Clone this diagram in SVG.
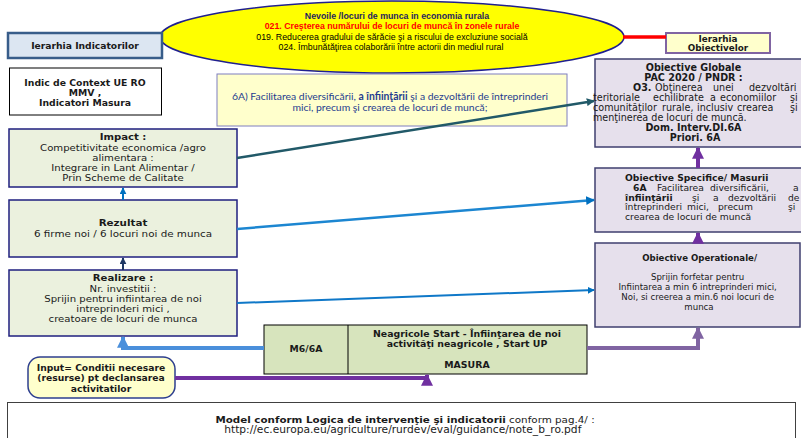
<svg xmlns="http://www.w3.org/2000/svg" width="801" height="438" viewBox="0 0 801 438">
<defs>
<style>
.t{font-family:"DejaVu Sans","Liberation Sans",sans-serif;fill:#1a1a1a}
.b{font-weight:bold}
.m{text-anchor:middle}
.a{font-family:"Liberation Sans",Arial,sans-serif}
.lft{fill:#EBF1DE;stroke:#1F1F7F;stroke-width:1.5}
.rgt{fill:#E6E0EC;stroke:#3F3F6F;stroke-width:1.5}
</style>
<marker id="ab" viewBox="0 0 10 10" refX="9" refY="5" markerWidth="3.5" markerHeight="3.5" orient="auto"><path d="M0,0L10,5L0,10z" fill="#0070C0"/></marker>
<marker id="an" viewBox="0 0 10 10" refX="9" refY="5" markerWidth="3.5" markerHeight="3.5" orient="auto"><path d="M0,0L10,5L0,10z" fill="#1F3864"/></marker>
<marker id="al" viewBox="0 0 10 10" refX="9" refY="5" markerWidth="3" markerHeight="3" orient="auto"><path d="M0,0L10,5L0,10z" fill="#4A8FDB"/></marker>
<marker id="at" viewBox="0 0 10 10" refX="9" refY="5" markerWidth="3.2" markerHeight="3.2" orient="auto"><path d="M0,0L10,5L0,10z" fill="#215968"/></marker>
<marker id="ap" viewBox="0 0 10 10" refX="9" refY="5" markerWidth="3" markerHeight="3" orient="auto"><path d="M0,0L10,5L0,10z" fill="#7030A0"/></marker>
<marker id="ap2" viewBox="0 0 10 10" refX="9" refY="5" markerWidth="3" markerHeight="3" orient="auto"><path d="M0,0L10,5L0,10z" fill="#8064A2"/></marker>
</defs>
<rect width="801" height="438" fill="#fff"/>

<g id="nevoi">
<ellipse cx="392" cy="37" rx="232" ry="36" fill="#FFFF00" stroke="#1F1F8F" stroke-width="1.5"/>
<text class="a b m" x="397" y="19" font-size="8.8" fill="#1F1F5F">Nevoile /locuri de munca in economia rurala</text>
<text class="a b m" x="392" y="29" font-size="8.8" fill="#FF0000">021. Creşterea numărului de locuri de muncă în zonele rurale</text>
<text class="a m" x="392" y="39.5" font-size="8.8" fill="#000">019. Reducerea gradului de sărăcie şi a riscului de excluziune socială</text>
<text class="a m" x="391" y="50" font-size="8.8" fill="#000">024. Îmbunătăţirea colaborării între actorii din mediul rural</text>
</g>

<g id="ierarhia-ind">
<rect x="8" y="33" width="154" height="25" fill="#DCE6F2" stroke="#385D8A" stroke-width="2.5"/>
<text class="t b m" x="85" y="49" font-size="9.2">Ierarhia Indicatorilor</text>
</g>

<g id="context">
<rect x="9.5" y="68" width="152" height="47" fill="#fff" stroke="#000" stroke-width="1"/>
<text class="t b m" font-size="9.3"><tspan x="85" y="85.5">Indic de Context UE RO</tspan><tspan x="85" y="95.5">MMV ,</tspan><tspan x="85" y="105.5">Indicatori Masura</tspan></text>
</g>

<g id="obj6a">
<rect x="217" y="74" width="350" height="52" fill="#FFFFCC" stroke="#7F7FBF" stroke-width="1"/>
<text font-family="Lato,'Open Sans',sans-serif" font-size="10.4" fill="#1F3D8F" text-anchor="middle"><tspan x="390" y="99.5">6A) Facilitarea diversificării, <tspan font-weight="bold">a înfiinţării</tspan> şi a dezvoltării de întreprinderi</tspan><tspan x="390" y="110.5">mici, precum şi crearea de locuri de muncă;</tspan></text>
</g>

<g id="impact">
<rect class="lft" x="9" y="129" width="228" height="58"/>
<g transform="translate(123 0) scale(1.1 1)">
<text class="t m" font-size="9.2"><tspan class="b" x="0" y="140.5">Impact :</tspan><tspan x="0" y="150.8">Competitivitate economica /agro</tspan><tspan x="0" y="161">alimentara :</tspan><tspan x="0" y="171.2">Integrare in Lant Alimentar /</tspan><tspan x="0" y="181.5">Prin Scheme de Calitate</tspan></text>
</g>
</g>

<g id="rezultat">
<rect class="lft" x="9" y="200" width="228" height="57"/>
<g transform="translate(123 0) scale(1.1 1)">
<text class="t m" font-size="9.4"><tspan class="b" x="0" y="226.5">Rezultat</tspan><tspan x="0" y="237.5">6 firme noi / 6 locuri noi de munca</tspan></text>
</g>
</g>

<g id="realizare">
<rect class="lft" x="9" y="270" width="228" height="66"/>
<g transform="translate(123 0) scale(1.1 1)">
<text class="t m" font-size="9.2"><tspan class="b" x="0" y="281.5">Realizare :</tspan><tspan x="0" y="292.5">Nr. investitii :</tspan><tspan x="0" y="302.5">Sprijin pentru infiintarea de noi</tspan><tspan x="0" y="312.5">intreprinderi mici ,</tspan><tspan x="0" y="322.5">creatoare de locuri de munca</tspan></text>
</g>
</g>

<g id="ierarhia-obj">
<rect x="666" y="33" width="104" height="20" fill="#FFFFCC" stroke="#8064A2" stroke-width="2"/>
<text class="t b m" font-size="8.8"><tspan x="718" y="42">Ierarhia</tspan><tspan x="718" y="51">Obiectivelor</tspan></text>
</g>

<g id="globale">
<rect class="rgt" x="595" y="59" width="230" height="88"/>
<text class="t" font-size="9.6">
<tspan class="b m" x="695" y="70.5">Obiective Globale</tspan>
<tspan class="b m" x="695" y="80.5">PAC 2020 / PNDR :</tspan>
<tspan class="b" x="633" y="91">O3.</tspan><tspan x="655" y="91">Obţinerea</tspan><tspan x="713" y="91">unei</tspan><tspan x="749" y="91">dezvoltări</tspan>
<tspan x="593" y="101">teritoriale</tspan><tspan x="653" y="101">echilibrate</tspan><tspan x="710" y="101">a</tspan><tspan x="720" y="101">economiilor</tspan><tspan x="790" y="101">şi</tspan>
<tspan x="593" y="111">comunităţilor</tspan><tspan x="662" y="111">rurale,</tspan><tspan x="697" y="111">inclusiv</tspan><tspan x="737" y="111">crearea</tspan><tspan x="790" y="111">şi</tspan>
<tspan x="593" y="121">menţinerea de locuri de muncă.</tspan>
<tspan class="b m" x="695" y="131">Dom. Interv.DI.6A</tspan>
<tspan class="b m" x="695" y="141">Priori. 6A</tspan>
</text>
</g>

<g id="specifice">
<rect class="rgt" x="595" y="168" width="230" height="64"/>
<text class="t" font-size="9.2">
<tspan class="b" x="625" y="180.5">Obiective Specifice/ Masurii</tspan>
<tspan class="b" x="633" y="190.5">6A</tspan><tspan x="657" y="190.5">Facilitarea</tspan><tspan x="710" y="190.5">diversificării,</tspan><tspan x="793" y="190.5">a</tspan>
<tspan class="b" x="625" y="200.5">înfiinţării</tspan><tspan x="692" y="200.5">şi</tspan><tspan x="713" y="200.5">a</tspan><tspan x="728" y="200.5">dezvoltării</tspan><tspan x="788" y="200.5">de</tspan>
<tspan x="625" y="210">întreprinderi</tspan><tspan x="687" y="210">mici,</tspan><tspan x="718" y="210">precum</tspan><tspan x="788" y="210">şi</tspan>
<tspan x="625" y="219.5">crearea de locuri de muncă</tspan>
</text>
</g>

<g id="operationale">
<rect class="rgt" x="595" y="243" width="205" height="84"/>
<text class="t m" font-size="8.6">
<tspan class="b" x="701" y="260.5">Obiective Operationale/</tspan>
<tspan x="699" y="279.5">Sprijin forfetar pentru</tspan>
<tspan x="699" y="289.5">Infiintarea a min 6 intreprinderi mici,</tspan>
<tspan x="699" y="299.5">Noi, si creerea a min.6 noi locuri  de</tspan>
<tspan x="699" y="309.5">munca</tspan>
</text>
</g>

<g id="masura">
<rect x="264" y="325" width="323" height="49" fill="#D7E4BD" stroke="#000" stroke-width="1"/>
<line x1="348" y1="325" x2="348" y2="374" stroke="#000" stroke-width="1"/>
<text class="t b m" font-size="9.3" x="306" y="351.5">M6/6A</text>
<text class="t b m" font-size="9.4"><tspan x="467" y="336.5">Neagricole  Start - Înfiinţarea de noi</tspan><tspan x="467" y="346.5">activităţi neagricole , Start UP</tspan><tspan x="467" y="368">MASURA</tspan></text>
</g>

<g id="input">
<rect x="28" y="357" width="147" height="41" rx="12" fill="#FFFFCC" stroke="#2E3F8F" stroke-width="1.5"/>
<text class="t b m" font-size="9.2"><tspan x="101" y="370.5">Input= Conditii necesare</tspan><tspan x="101" y="381">(resurse) pt declansarea</tspan><tspan x="101" y="391.5">activitatilor</tspan></text>
</g>

<g id="nota">
<rect x="7.5" y="402.5" width="788" height="36" fill="#fff" stroke="#404040" stroke-width="1"/>
<g transform="translate(405 0) scale(1.1 1)">
<text class="t m" font-size="9.4"><tspan x="0" y="423"><tspan class="b">Model conform Logica de intervenţie şi indicatorii</tspan> conform pag.4/ :</tspan><tspan x="-2" y="433.5" font-size="9.7">http://ec.europa.eu/agriculture/rurdev/eval/guidance/note_b_ro.pdf</tspan></text>
</g>
</g>

<g id="connectors" fill="none">
<line x1="623" y1="37" x2="666" y2="37" stroke="#FF0000" stroke-width="3.5"/>
<line x1="123" y1="200" x2="123" y2="188" stroke="#0070C0" stroke-width="2" marker-end="url(#ab)"/>
<line x1="123" y1="270" x2="123" y2="258" stroke="#1F3864" stroke-width="2" marker-end="url(#an)"/>
<path d="M264,348H123V337" stroke="#4A8FDB" stroke-width="4" marker-end="url(#al)"/>
<line x1="237" y1="158" x2="594" y2="101" stroke="#215968" stroke-width="2.5" marker-end="url(#at)"/>
<line x1="237" y1="229" x2="594" y2="200" stroke="#1C86D1" stroke-width="2.5" marker-end="url(#ab)"/>
<line x1="237" y1="303" x2="594" y2="290" stroke="#0F78C8" stroke-width="2" marker-end="url(#ab)"/>
<line x1="698" y1="168" x2="698" y2="148" stroke="#7030A0" stroke-width="4" marker-end="url(#ap)"/>
<line x1="698" y1="243" x2="698" y2="233" stroke="#7030A0" stroke-width="4" marker-end="url(#ap)"/>
<path d="M587,348H698V328" stroke="#8064A2" stroke-width="4" marker-end="url(#ap2)"/>
<path d="M175,378H427V375" stroke="#7030A0" stroke-width="4" marker-end="url(#ap)"/>
</g>
</svg>
